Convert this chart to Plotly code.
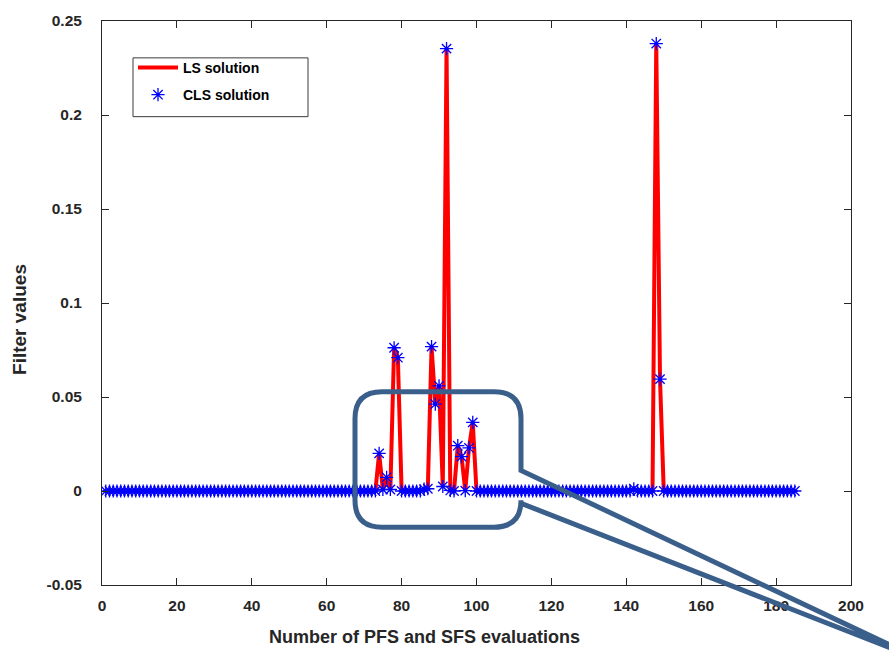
import plotly.graph_objects as go

# ---- data ----
evaluations = list(range(1, 186))

ls_values = [
    0, 0, 0, 0, 0, 0, 0, 0, 0, 0,                 # 1-10
    0, 0, 0, 0, 0, 0, 0, 0, 0, 0,                 # 11-20
    0, 0, 0, 0, 0, 0, 0, 0, 0, 0,                 # 21-30
    0, 0, 0, 0, 0, 0, 0, 0, 0, 0,                 # 31-40
    0, 0, 0, 0, 0, 0, 0, 0, 0, 0,                 # 41-50
    0, 0, 0, 0, 0, 0, 0, 0, 0, 0,                 # 51-60
    0, 0, 0, 0, 0, 0, 0, 0, 0, 0,                 # 61-70
    0, 0, 0, 0.020, 0.0008, 0.0073, 0.0008, 0.0762, 0.0709, 0,   # 71-80
    0, 0, 0, 0, 0, 0.0010, 0.0012, 0.0768, 0.0462, 0.0559,       # 81-90
    0.0024, 0.2353, 0.0003, 0, 0.0241, 0.0183, 0.0002, 0.0229, 0.0365, 0,  # 91-100
    0, 0, 0, 0, 0, 0, 0, 0, 0, 0,                 # 101-110
    0, 0, 0, 0, 0, 0, 0, 0, 0, 0,                 # 111-120
    0, 0, 0, 0, 0, 0, 0, 0, 0, 0,                 # 121-130
    0, 0, 0, 0, 0, 0, 0, 0, 0, 0,                 # 131-140
    0, 0.0012, 0, 0, 0, 0, 0, 0.2380, 0.0595, 0,  # 141-150
    0, 0, 0, 0, 0, 0, 0, 0, 0, 0,                 # 151-160
    0, 0, 0, 0, 0, 0, 0, 0, 0, 0,                 # 161-170
    0, 0, 0, 0, 0, 0, 0, 0, 0, 0,                 # 171-180
    0, 0, 0, 0, 0,                                # 181-185
]
cls_values = list(ls_values)

x_ticks = [0, 20, 40, 60, 80, 100, 120, 140, 160, 180, 200]
x_tick_labels = ["0", "20", "40", "60", "80", "100", "120", "140", "160", "180", "200"]
y_ticks = [-0.05, 0, 0.05, 0.1, 0.15, 0.2, 0.25]
y_tick_labels = ["-0.05", "0", "0.05", "0.1", "0.15", "0.2", "0.25"]

# ---- layout geometry (pixels) ----
W, H = 889, 654
L, R, T, B = 102, 38, 19, 69
PW, PH = W - L - R, H - T - B


def px(xp, yp):
    """pixel position -> paper coordinates"""
    return (xp - L) / PW, (H - B - yp) / PH


def callout_path():
    x0, x1, y0, y1, r = 355, 521, 391, 527, 27

    def P(x, y):
        a, b = px(x, y)
        return f"{a:.5f},{b:.5f}"
    d = "M " + P(x1, 470)
    d += " L " + P(x1, y0 + r)
    d += " Q " + P(x1, y0) + " " + P(x1 - r, y0)
    d += " L " + P(x0 + r, y0)
    d += " Q " + P(x0, y0) + " " + P(x0, y0 + r)
    d += " L " + P(x0, y1 - r)
    d += " Q " + P(x0, y1) + " " + P(x0 + r, y1)
    d += " L " + P(x1 - r, y1)
    d += " Q " + P(x1, y1) + " " + P(x1, y1 - r)
    d += " L " + P(x1, 503)
    d += " L " + P(923, 661)
    d += " Z"
    return d


FONT = "Liberation Sans, Arial, Helvetica, sans-serif"
AXC = "#262626"

fig = go.Figure()
fig.add_trace(go.Scatter(
    x=evaluations, y=ls_values, mode="lines", name="<b>LS solution</b>",
    line=dict(color="#ff0000", width=4), legendgroup="a",
))
fig.add_trace(go.Scatter(
    x=evaluations, y=cls_values, mode="markers", name="<b>CLS solution</b>",
    marker=dict(symbol="asterisk-open", size=11, color="#0000ff",
                line=dict(color="#0000ff", width=1.3)),
    legendgroup="b",
))

lg0 = px(133, 56)
lg1 = px(308, 115)

fig.update_layout(
    width=W, height=H,
    margin=dict(l=L, r=R, t=T, b=B, pad=0),
    paper_bgcolor="white", plot_bgcolor="white",
    font=dict(family=FONT, size=15.5, color=AXC),
    showlegend=True,
    legend=dict(
        x=px(133, 50)[0], y=px(133, 50)[1], xanchor="left", yanchor="top",
        bgcolor="rgba(0,0,0,0)", borderwidth=0,
        font=dict(family=FONT, size=14, color="black"),
        tracegroupgap=6, itemwidth=40,
    ),
    xaxis=dict(
        range=[0, 200], tickvals=x_ticks,
        ticktext=[f"<b>{t}</b>" for t in x_tick_labels],
        ticks="inside", ticklen=7,
        showline=True, linecolor=AXC, linewidth=1, mirror="ticks",
        tickcolor=AXC, showgrid=False, zeroline=False,
        tickfont=dict(family=FONT, size=15.5, color=AXC),
        ticklabelstandoff=6,
    ),
    yaxis=dict(
        range=[-0.05, 0.25], tickvals=y_ticks,
        ticktext=[f"<b>{t}</b>" for t in y_tick_labels],
        ticks="inside", ticklen=7,
        showline=True, linecolor=AXC, linewidth=1, mirror="ticks",
        tickcolor=AXC, showgrid=False, zeroline=False,
        tickfont=dict(family=FONT, size=15.5, color=AXC),
        ticklabelstandoff=16,
    ),
    annotations=[
        dict(text="<b>Number of PFS and SFS evaluations</b>", xref="paper", yref="paper",
             x=px(424, 637)[0], y=px(424, 637)[1], xanchor="center", yanchor="middle",
             showarrow=False, font=dict(family=FONT, size=18, color=AXC)),
        dict(text="<b>Filter values</b>", xref="paper", yref="paper",
             x=px(20, 319)[0], y=px(20, 319)[1], xanchor="center", yanchor="middle",
             textangle=-90, showarrow=False, font=dict(family=FONT, size=19, color=AXC)),
    ],
    shapes=[
        dict(type="rect", xref="paper", yref="paper",
             x0=lg0[0], y0=lg0[1], x1=lg1[0], y1=lg1[1],
             line=dict(color="#3a3a3a", width=1), fillcolor="white", layer="above"),
        dict(type="path", xref="paper", yref="paper", path=callout_path(),
             line=dict(color="#3b5f8b", width=5), fillcolor="rgba(0,0,0,0)",
             layer="above"),
    ],
)

fig.write_html(
    "out.html",
    config={"displayModeBar": False},
    post_script="document.body.style.margin='0px';document.body.style.overflow='hidden';",
)
